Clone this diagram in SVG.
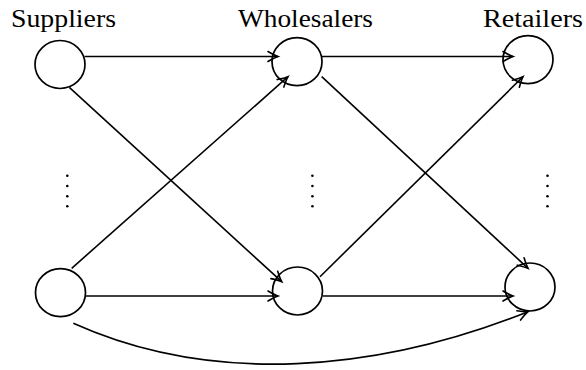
<svg xmlns="http://www.w3.org/2000/svg" width="586" height="370" viewBox="0 0 586 370">
  <style>
    .node { fill: none; stroke: #000; stroke-width: 1.7; }
    .edge { fill: none; stroke: #000; stroke-width: 1.6; marker-end: url(#to); }
    .label { font-family: "Liberation Serif", "DejaVu Serif", serif; font-size: 26px; fill: #000; }
    .dot { fill: #000; }
  </style>
  <defs>
    <marker id="to" markerUnits="userSpaceOnUse" markerWidth="16" markerHeight="14" viewBox="-12 -7 14 14" refX="0" refY="0" orient="auto">
      <path d="M-10,-5 Q-3.5,-1.2 0,0 Q-3.5,1.2 -10,5" fill="none" stroke="#000" stroke-width="1.6" stroke-linecap="round"/>
    </marker>
  </defs>

  <rect width="586" height="370" fill="#fff"/>

  <!-- column headings -->
  <text class="label" x="11" y="27" textLength="105" lengthAdjust="spacingAndGlyphs">Suppliers</text>
  <text class="label" x="238" y="27" textLength="135" lengthAdjust="spacingAndGlyphs">Wholesalers</text>
  <text class="label" x="483" y="27" textLength="100" lengthAdjust="spacingAndGlyphs">Retailers</text>

  <!-- nodes -->
  <g id="supplier-1"><ellipse class="node" cx="60" cy="64.5" rx="25" ry="24"/></g>
  <g id="supplier-n"><ellipse class="node" cx="60.5" cy="292.7" rx="25" ry="24"/></g>
  <g id="wholesaler-1"><ellipse class="node" cx="297" cy="61.7" rx="25" ry="24"/></g>
  <g id="wholesaler-n"><ellipse class="node" cx="297.5" cy="291" rx="25" ry="24"/></g>
  <g id="retailer-1"><ellipse class="node" cx="528" cy="59.6" rx="25" ry="24"/></g>
  <g id="retailer-n"><ellipse class="node" cx="530" cy="287" rx="25" ry="24"/></g>

  <!-- connectors -->
  <g id="connectors">
    <path class="edge" d="M84.5,56.5 L278,56.5"/>
    <path class="edge" d="M322,56.5 L513,56.5"/>
    <path class="edge" d="M85.5,296 L278,296"/>
    <path class="edge" d="M323,296 L513,296"/>
    <path class="edge" d="M69.3,87.3 L281.7,281.7"/>
    <path class="edge" d="M71.7,268.3 L288,76.7"/>
    <path class="edge" d="M321.7,76.7 L528,268.3"/>
    <path class="edge" d="M320,276.7 L523,76.7"/>
    <path class="edge" d="M73.3,323.3 C213.3,386.3 378,371.7 528,311.7"/>
  </g>

  <!-- vertical ellipses -->
  <g id="vdots">
    <circle class="dot" cx="67.3" cy="175.7" r="1.3"/>
    <circle class="dot" cx="67.3" cy="186" r="1.3"/>
    <circle class="dot" cx="67.3" cy="196.2" r="1.3"/>
    <circle class="dot" cx="67.3" cy="206.3" r="1.3"/>
    <circle class="dot" cx="312.4" cy="175.7" r="1.3"/>
    <circle class="dot" cx="312.4" cy="186" r="1.3"/>
    <circle class="dot" cx="312.4" cy="196.2" r="1.3"/>
    <circle class="dot" cx="312.4" cy="206.3" r="1.3"/>
    <circle class="dot" cx="547.5" cy="175.7" r="1.3"/>
    <circle class="dot" cx="547.5" cy="186" r="1.3"/>
    <circle class="dot" cx="547.5" cy="196.2" r="1.3"/>
    <circle class="dot" cx="547.5" cy="206.3" r="1.3"/>
  </g>
</svg>
